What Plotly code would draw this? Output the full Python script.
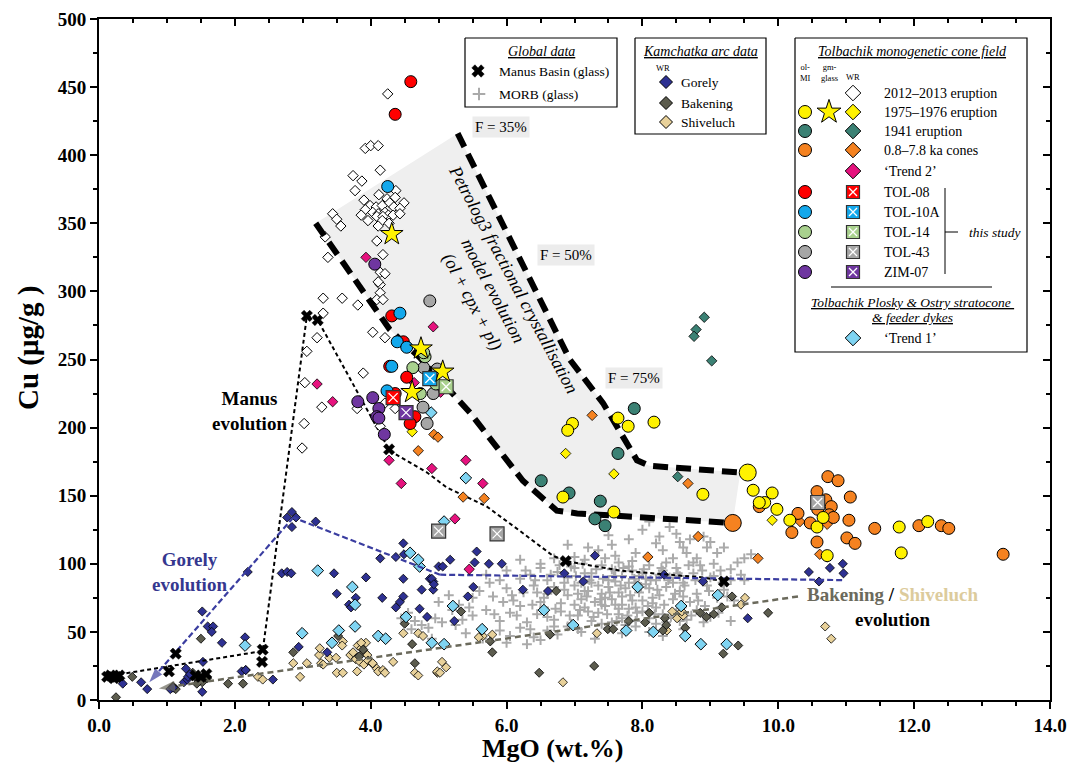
import plotly.graph_objects as go

SERIF = "Liberation Serif"

# ---------------- DATA (MgO wt.%, Cu ug/g) ----------------
tol2012_wr = [(4.25,445),(3.92,405),(4.0,407),(4.11,407),(4.14,389),(3.74,385),(3.87,381),(3.77,374),(4.37,374),
    (4.12,371),(3.9,367),(4.24,368),(4.36,369),(4.49,365),(3.99,363),(4.08,362),(4.17,363),(4.28,365),(4.34,362),
    (4.43,361),(3.92,360),(4.03,358),(4.11,357),(4.21,358),(4.26,356),(3.86,356),(4.09,355),(4.18,355),(4.33,356),
    (4.43,357),(3.96,352),(4.17,352),(3.44,357),(3.5,353),(3.56,348),(3.33,340),(4.11,348),(4.27,350),(4.09,337),
    (4.18,327),(3.37,325),(3.3,295),(3.58,295),(3.81,290),(4.14,305),(4.14,299),(4.09,294),(3.3,284),(3.21,266),
    (3.06,256),(4.03,270),(4.21,266),(3.89,240),(3.03,233),(3.28,215),(3.02,203),(2.99,185),(3.8,214),(4.36,214),
    (4.14,201),(4.14,314),(4.21,313),(4.11,307),(4.18,294),(4.21,218)]
tol1975_mi = [(6.97,203),(6.9,198),(7.64,207),(7.79,201),(8.17,204),(6.83,149),(7.58,138),(8.89,151),(9.63,154),
    (9.91,152),(9.8,145),(9.72,145),(9.98,140),(10.17,132),(10.57,127),(10.66,134),(10.72,106),(11.78,127),
    (12.2,131),(11.81,108)]
tol1975_mi_big = [(9.55,167)]
tol1975_glass = [(4.31,342),(4.74,258),(5.06,241),(4.61,226)]
tol1975_wr = [(6.87,181),(7.58,166),(9.91,132),(4.61,197)]
tol1941_mi = [(7.88,214),(7.64,181),(6.51,161),(6.92,152),(7.38,146),(7.3,133),(7.45,128)]
tol1941_wr = [(8.91,281),(8.79,272),(8.76,267),(9.02,249),(8.52,164)]
cones_mi = [(10.73,164),(10.88,161),(10.57,153),(11.06,149),(10.7,147),(10.78,142),(10.58,140),(10.75,136),
    (10.81,134),(10.29,137),(10.47,130),(11.04,132),(10.2,123),(10.57,116),(11.01,119),(11.13,115),(9.72,142),
    (11.42,126),(12.07,128),(12.4,128),(12.51,126),(13.31,107)]
cones_mi_big = [(9.33,130)]
cones_wr = [(7.26,209),(8.67,159),(9.7,104),(10.61,107),(10.72,105),(10.72,129),(10.32,131),(5.36,149),(5.67,148),
    (8.82,120),(8.08,105),(4.93,195),(4.99,193),(4.7,183)]
trend2_wr = [(3.93,325),(4.92,274),(4.64,233),(5.03,226),(4.27,176),(4.9,170),(5.4,176),(4.45,159),(5.65,159),
    (3.44,219),(3.21,232),(5.24,133),(5.45,96)]
tol08_mi = [(4.59,454),(4.36,430),(4.31,282),(4.48,263),(4.28,245),(4.53,237),(4.36,225),(4.65,208),(4.58,203)]
tol10a_mi = [(4.25,377),(4.43,284),(4.39,263),(4.53,259),(4.31,245),(4.24,227)]
tol14_mi = [(4.8,252),(4.78,255),(4.62,244),(4.96,232),(4.73,225)]
tol43_mi = [(4.87,293),(4.78,244),(4.98,243),(4.92,225),(4.77,215),(4.83,203)]
zim07_mi = [(4.06,320),(3.81,219),(4.03,222),(4.12,214),(4.09,208),(4.12,207),(4.2,195)]
tol08_wr = [(4.33,222)]
tol10a_wr = [(4.87,236)]
tol14_wr = [(5.11,230)]
tol43_wr = [(5.0,124),(5.86,122),(10.58,145)]
zim07_wr = [(4.52,211)]
trend1_wr = [(4.89,211),(5.4,163),(5.08,131),(5.21,69),(5.64,52),(4.9,42),(5.08,41),(6.55,66),(6.98,55),(7.76,51),
    (7.93,83),(8.16,50),(8.57,69),(8.63,47),(8.86,41),(9.24,41),(9.11,77),(4.72,98),(3.22,95),(3.73,83),(3.77,70),
    (2.99,49),(2.15,40),(3.53,51),(3.43,42),(3.77,54),(4.11,47),(4.22,45),(4.52,61),(4.58,108),(4.7,103)]
gorely_wr = [(2.84,138),(2.77,134),(2.9,134),(2.84,127),(3.19,131),(2.19,94),(2.69,93),(2.77,94),(2.83,93),(3.46,93),
    (3.5,78),(3.93,90),(3.68,70),(3.71,68),(3.78,75),(4.17,75),(4.14,104),(4.37,105),(4.48,115),(4.49,107),(4.48,89),
    (4.37,68),(4.43,72),(4.48,76),(4.75,81),(4.87,89),(4.92,87),(4.92,81),(4.83,61),(5.0,98),(1.52,65),(1.6,54),
    (1.68,54),(1.66,50),(1.81,42),(1.53,28),(2.15,46),(2.1,21),(2.16,22),(2.56,15),(2.94,39),(3.36,35),(0.35,12),
    (0.62,13),(0.71,8),(1.05,8),(1.09,9),(1.25,13),(1.3,15),(1.31,17),(1.34,19),(1.52,6),(1.28,23),(5.56,109),
    (5.17,103),(5.06,98),(5.53,101),(5.74,100),(5.93,100),(7.3,106),(6.85,93),(7.13,87),(8.32,92),(8.89,87),
    (6.24,81),(6.61,80),(5.51,83),(5.43,76),(4.9,89),(4.93,85),(4.72,67),(5.23,58),(10.45,94),(10.76,97),
    (10.95,100),(10.96,93),(10.6,87),(9.55,60)]
bakening_wr = [(0.25,2),(0.49,17),(1.5,45),(1.13,8),(1.09,10),(1.38,20),(1.46,15),(1.52,13),(1.59,16),(1.44,12),
    (1.9,12),(2.12,12),(2.16,22),(2.86,35),(3.52,47),(3.89,37),(3.83,32),(4.5,56),(4.61,41),(4.65,27),(5.33,65),
    (5.76,43),(5.79,35),(6.64,48),(6.73,80),(6.48,20),(7.29,25),(7.49,52),(7.57,52),(7.8,58),(8.1,64),(8.04,57),
    (8.33,60),(8.35,55),(8.3,51),(8.63,53),(8.85,64),(8.94,61),(9.05,63),(9.17,68),(9.32,76),(9.19,34),(9.41,40),
    (9.85,64)]
shiveluch_wr = [(2.34,17),(2.41,15),(2.86,27),(2.96,17),(3.06,27),(3.24,33),(3.27,27),(3.3,26),(3.39,31),(3.49,31),
    (3.59,43),(3.5,20),(3.59,20),(3.81,40),(3.86,38),(3.91,35),(3.95,33),(3.78,30),(3.84,28),(3.9,26),(3.96,29),
    (4.02,27),(3.8,21),(3.7,33),(3.74,35),(4.03,27),(4.09,23),(4.11,21),(4.18,22),(4.21,20),(4.33,28),(4.48,49),
    (4.7,49),(4.77,47),(4.65,20),(4.7,18),(4.98,20),(3.93,42),(3.86,42),(3.25,38),(3.58,40),(5.65,47),(5.79,48),
    (5.59,46),(5.05,28),(5.11,24),(4.98,21),(5.02,20),(6.83,13),(7.33,49),(8.44,65),(8.51,60),(8.6,62),(8.58,65),
    (8.36,51),(9.51,75),(9.45,70),(10.69,54),(10.78,45)]
manus_glass = [(0.12,17),(0.17,18),(0.22,16),(0.26,17),(0.3,18),(1.13,34),(1.03,21),(1.42,18),(1.5,17),(1.58,19),
    (2.41,37),(2.4,28),(3.06,282),(3.22,279),(4.27,184),(6.87,102),(9.2,87)]
morb_glass = [(4.45,60),(4.55,64),(4.65,58),(4.75,55),(4.85,53),(4.95,60),(5.05,57),(5.15,77),(5.2,66),(5.3,70),
    (5.45,68),(4.9,45),(5.25,55),(5.5,75),(5.35,59),(5.0,72),(4.6,52),
    (6.9,114),(7.2,112),(7.5,121),(7.8,118),(8.0,125),(8.1,131),(8.3,110),(8.4,127),(8.5,122),(8.6,112),(8.7,118),
    (8.9,120),(9.0,116),(9.1,108),(9.2,112),(8.2,115),(7.6,106),(7.0,105),(6.7,104),(9.4,101),(9.5,104),(9.6,107),
    (8.8,104),(7.35,110),(8.45,104),(8.65,108),(9.3,96),(6.5,100),(6.2,103),(7.9,108),(9.45,92),(9.5,88),
    (6.0,95),(6.2,89),(6.35,92),(6.5,97),(6.6,88),(6.75,94),(6.9,90),(7.0,97),(7.1,86),(7.25,93),(7.4,99),(7.5,88),
    (7.6,95),(7.7,91),(7.8,98),(7.9,86),(8.0,93),(8.1,99),(8.2,88),(8.3,95),(8.4,90),(8.5,97),(8.6,86),(8.75,93),
    (8.85,99),(9.0,90),(9.15,95),(9.3,88),(5.7,92),(5.9,88),(7.15,93),(7.55,96),(8.05,89),(8.55,91),
    (5.6,80),(5.8,76),(6.0,82),(6.1,73),(6.25,79),(6.4,84),(6.5,72),(6.6,78),(6.7,83),(6.8,71),(6.9,77),(7.0,84),
    (7.1,74),(7.2,80),(7.3,72),(7.4,78),(7.5,83),(7.6,70),(7.7,76),(7.75,82),(7.85,73),(7.95,79),(8.05,85),(8.15,71),
    (8.25,77),(8.35,83),(8.45,74),(8.55,80),(8.7,72),(8.8,78),(8.95,84),(9.1,75),(9.2,81),(9.35,73),(6.45,79),
    (7.05,78),(7.65,79),(7.35,84),(8.0,73),(8.6,76),
    (5.5,62),(5.7,66),(5.9,58),(6.05,64),(6.2,69),(6.3,57),(6.45,63),(6.55,68),(6.7,59),(6.8,65),(6.95,56),(7.05,62),
    (7.15,68),(7.25,58),(7.35,64),(7.45,69),(7.55,57),(7.65,63),(7.8,67),(7.9,58),(8.0,65),(8.1,60),(8.2,68),
    (8.35,57),(8.5,64),(8.65,59),(8.8,66),(9.0,61),(9.15,68),(9.3,58),(6.6,61),(7.2,65),(7.7,60),(8.3,63),
    (5.4,49),(5.65,45),(5.9,51),(6.05,47),(6.2,53),(6.4,46),(6.5,44),(6.6,51),(6.75,48),(6.9,54),(7.1,50),(7.3,45),
    (7.5,53),(7.7,49),(7.9,54),(8.1,50),(8.3,47),(8.6,52),(6.3,41),(6.0,42),
    (7.25,86),(7.45,75),(7.6,87),(7.8,86),(7.95,91),(8.1,82),(7.55,74),(7.7,70),(7.9,68),(7.4,70),(7.15,80),
    (7.85,95),(8.25,92),(8.45,86),(7.0,70),(6.85,86),(7.65,67),(8.15,75),
    (6.55,75),(6.65,92),(6.72,67),(6.78,99),(6.85,81),(6.93,62),(7.02,91),(7.08,66),(7.12,100),(7.18,76),(7.22,88),
    (7.28,61),(7.32,96),(7.38,74),(7.42,89),(7.48,63),(7.52,79),(7.58,91),(7.62,58),(7.68,84),(7.72,97),(7.78,62),
    (7.82,77),(7.88,89),(7.92,64),(7.98,83),(8.02,96),(8.08,69),(8.12,88),(8.18,63),(8.22,81),(8.28,97),(8.32,70),
    (8.38,88),(8.42,61),(8.48,78),(8.52,93),(8.58,68),(8.62,84),(8.68,99),(8.72,62),(8.78,88),(8.82,73),(8.88,95),
    (8.92,69),(8.98,80),(9.05,91),(9.12,64),(9.18,86),(9.25,76),(6.38,70),(6.42,88),(6.28,95),(6.15,62),(6.08,77),
    (5.95,72),(5.82,63),(5.75,86),(6.35,52),(6.7,54),(7.05,52),(7.4,56),(7.75,55),(8.2,56),(8.55,58),(8.9,57),
    (7.15,103),(7.45,104),(7.85,102),(8.35,101),(8.75,101),(9.05,100),(7.55,114),(8.25,120),(8.55,116),(8.95,112),
    (6.95,98),(7.65,101)]

# model / evolution paths
petro_upper = [(5.28,416),(6.1,333),(6.93,250),(7.42,218),(7.92,176),(8.1,172),(9.44,167)]
petro_lower = [(3.19,350),(3.59,321),(4.28,272),(4.73,251),(5.46,211),(6.24,161),(6.74,139),(7.04,137),(9.33,130)]
manus_path = [(0.2,18),(2.41,36),(3.06,282),(3.22,279),(4.28,183),(4.83,167),(5.12,156),(5.71,142),(6.2,124),
    (6.68,106),(6.87,102),(7.67,95),(8.89,90),(9.2,87)]
gorely_path = [(10.94,88),(8.89,89.5),(5.02,92),(2.86,134),(0.74,13)]
bak_path = [(10.29,76),(1.09,10),(0.88,8.5)]

# legend rows (Tolbachik box)
tol_labels = ["2012–2013 eruption", "1975–1976 eruption", "1941 eruption", "0.8–7.8 ka cones", "‘Trend 2’",
              "TOL-08", "TOL-10A", "TOL-14", "TOL-43", "ZIM-07"]

# ---------------- COLOURS ----------------
C_YEL = "#fff200"; C_TEAL = "#3b8174"; C_ORA = "#f58220"; C_MAG = "#e6127e"
C_RED = "#ff0000"; C_BLU = "#13a8ec"; C_GRN = "#a9d18e"; C_GRY = "#a6a6a6"; C_PUR = "#6f36a0"
C_TR1 = "#7fd4f2"; C_GOR = "#2e3192"; C_BAK = "#5c5c4e"; C_SHI = "#e8d19a"; C_MORB = "#aaaaaa"

def split(pairs):
    return [p[0] for p in pairs], [p[1] for p in pairs]

fig = go.Figure()

def pts(pairs, symbol, color, size, lc="black", lw=1, axes=("x", "y")):
    x, y = split(pairs)
    fig.add_trace(go.Scatter(x=x, y=y, mode="markers", showlegend=False, hoverinfo="skip",
                             xaxis=axes[0], yaxis=axes[1],
                             marker=dict(symbol=symbol, color=color, size=size, line=dict(color=lc, width=lw))))

def line(pairs, color, width, dash, **kw):
    x, y = split(pairs)
    fig.add_trace(go.Scatter(x=x, y=y, mode="lines", showlegend=False, hoverinfo="skip",
                             line=dict(color=color, width=width, dash=dash), **kw))

def squares(pairs, color, size=14, axes=("x", "y")):
    pts(pairs, "square", color, size, "#333333", 1.2, axes)
    pts(pairs, "x-thin", color, size - 5, "white", 1.3, axes)

# model field
poly = petro_upper + petro_lower[::-1] + [petro_upper[0]]
px_, py_ = split(poly)
fig.add_trace(go.Scatter(x=px_, y=py_, mode="lines", fill="toself", fillcolor="#efefef",
                         line=dict(width=0), showlegend=False, hoverinfo="skip"))

pts(morb_glass, "cross-thin", C_MORB, 7, C_MORB, 2)
pts(shiveluch_wr, "diamond", C_SHI, 7, "black", 0.8)
pts(bakening_wr, "diamond", C_BAK, 7, "black", 0.8)
pts(gorely_wr, "diamond", C_GOR, 7, "black", 0.8)
pts(trend1_wr, "diamond", C_TR1, 9, "black", 1)

# evolution trends
line(manus_path, "black", 2, "4px,3px")
gx, gy = split(gorely_path)
fig.add_trace(go.Scatter(x=gx, y=gy, mode="lines+markers", showlegend=False, hoverinfo="skip",
                         line=dict(color="#3a3da0", width=2.2, dash="6px,3px"),
                         marker=dict(symbol=["circle"] * (len(gx) - 1) + ["arrow"],
                                     size=[0] * (len(gx) - 1) + [15], color="#3a3da0",
                                     angleref="previous", line=dict(width=0))))
bx, by = split(bak_path)
fig.add_trace(go.Scatter(x=bx, y=by, mode="lines+markers", showlegend=False, hoverinfo="skip",
                         line=dict(color="#6b6a5c", width=2.5, dash="6px,4px"),
                         marker=dict(symbol=["circle"] * (len(bx) - 1) + ["arrow"],
                                     size=[0] * (len(bx) - 1) + [17], color="#6b6a5c",
                                     angleref="previous", line=dict(width=0))))

pts(manus_glass, "x", "black", 10, "black", 0.5)
pts(tol2012_wr, "diamond", "white", 8, "black", 1)
pts(trend2_wr, "diamond", C_MAG, 8, "black", 0.8)
pts(cones_wr, "diamond", C_ORA, 8, "black", 0.8)
pts(tol1941_wr, "diamond", C_TEAL, 8, "black", 0.8)
pts(tol1975_wr, "diamond", C_YEL, 8, "black", 0.8)

line(petro_upper, "black", 6, "15px,8px")
line(petro_lower, "black", 6, "15px,8px")

pts(tol1941_mi, "circle", C_TEAL, 12)
pts(cones_mi, "circle", C_ORA, 12)
pts(tol1975_mi, "circle", C_YEL, 12)
pts(tol1975_mi_big, "circle", C_YEL, 17)
pts(cones_mi_big, "circle", C_ORA, 17)
pts(tol43_mi, "circle", C_GRY, 12)
pts(tol14_mi, "circle", C_GRN, 12)
pts(zim07_mi, "circle", C_PUR, 12)
pts(tol08_mi, "circle", C_RED, 12)
pts(tol10a_mi, "circle", C_BLU, 12)
squares(tol43_wr, C_GRY)
squares(tol08_wr, C_RED)
squares(tol10a_wr, C_BLU)
squares(tol14_wr, C_GRN)
squares(zim07_wr, C_PUR)
pts(tol1975_glass, "star", C_YEL, 17)

# dummy trace for mirrored top/right axes
fig.add_trace(go.Scatter(x=[None], y=[None], xaxis="x2", yaxis="y2", showlegend=False))

# ---------------- LEGEND (pixel-space overlay axes x3/y3) ----------------
P = ("x3", "y3")
def box(l, t, r, b):
    fig.add_trace(go.Scatter(x=[l, r, r, l, l], y=[t, t, b, b, t], mode="lines", fill="toself",
                             fillcolor="white", line=dict(color="black", width=1.2),
                             xaxis="x3", yaxis="y3", showlegend=False, hoverinfo="skip"))
box(465, 38, 617, 107)
box(635, 38, 766, 134)
box(795, 38, 1027, 352)

pts([(478, 71)], "x", "black", 11, "black", 0.5, P)
pts([(479, 94)], "cross-thin", C_MORB, 9, C_MORB, 2, P)
pts([(666, 82)], "diamond", C_GOR, 10, "black", 1, P)
pts([(666, 103)], "diamond", C_BAK, 10, "black", 1, P)
pts([(666, 122)], "diamond", C_SHI, 10, "black", 1, P)

rows = [93, 112, 131, 150, 171, 192, 212, 232, 252, 272]
circ_cols = {1: C_YEL, 2: C_TEAL, 3: C_ORA, 5: C_RED, 6: C_BLU, 7: C_GRN, 8: C_GRY, 9: C_PUR}
for i, c in circ_cols.items():
    pts([(805, rows[i])], "circle", c, 13, "black", 1, P)
pts([(829, 112)], "star", C_YEL, 18, "black", 1, P)
dia_cols = {0: "white", 1: C_YEL, 2: C_TEAL, 3: C_ORA, 4: C_MAG}
for i, c in dia_cols.items():
    pts([(853, rows[i])], "diamond", c, 12, "black", 1, P)
for i, c in zip(range(5, 10), [C_RED, C_BLU, C_GRN, C_GRY, C_PUR]):
    squares([(853, rows[i])], c, 13, P)
pts([(853, 338)], "diamond", C_TR1, 12, "black", 1, P)

def ann(text, x, y, size=14, xanchor="left", color="black", italic=False, under=False, bold=False,
        align="left", bg=None, angle=0):
    f = dict(family=SERIF, size=size, color=color)
    if italic:
        f["style"] = "italic"
    if under:
        f["lineposition"] = "under"
    if bold:
        f["weight"] = "bold"
    kw = {}
    if bg:
        kw["bgcolor"] = bg
    fig.add_annotation(text=text, x=x, y=y, xref="x3", yref="y3", showarrow=False, xanchor=xanchor,
                       yanchor="middle", font=f, align=align, textangle=angle, borderpad=2, **kw)

ann("Global data", 541, 51, 14, "center", italic=True, under=True)
ann("Manus Basin (glass)", 496, 71, 13.5)
ann("MORB (glass)", 496, 94, 13.5)
ann("Kamchatka arc data", 700, 51, 14, "center", italic=True, under=True)
ann("WR", 663, 68, 8.5, "center")
ann("Gorely", 678, 82, 13.5)
ann("Bakening", 678, 103, 13.5)
ann("Shiveluch", 678, 122, 13.5)
ann("Tolbachik monogenetic cone field", 912, 51, 14, "center", italic=True, under=True)
ann("ol-<br>MI", 805, 72, 8.5, "center", align="center")
ann("gm-<br>glass", 829, 72, 8.5, "center", align="center")
ann("WR", 853, 77, 8.5, "center")
for i, lab in enumerate(tol_labels):
    ann(lab, 881, rows[i], 14)
ann("this study", 994, 232, 13.5, "center", italic=True)
ann("Tolbachik Plosky &amp; Ostry stratocone ", 912, 302, 13.5, "center", italic=True, under=True)
ann("&amp; feeder dykes", 912, 317, 13.5, "center", italic=True, under=True)
ann("‘Trend 1’", 881, 338, 14)

fig.add_shape(type="line", xref="x3", yref="y3", x0=945, x1=945, y0=188, y1=274, line=dict(color="black", width=1))
fig.add_shape(type="line", xref="x3", yref="y3", x0=945, x1=958, y0=232, y1=232, line=dict(color="black", width=1))
fig.add_shape(type="line", xref="x3", yref="y3", x0=831, x1=992, y0=287, y1=287, line=dict(color="#555555", width=1.5))

# chart labels
ann("F = 35%", 501, 127, 15, "center", bg="#ececec")
ann("F = 50%", 566, 255, 15, "center", bg="#ececec")
ann("F = 75%", 634, 378, 15, "center", bg="#ececec")
ann("Petrolog3 fractional crystallisation<br>model evolution<br>(ol + cpx + pl)", 492, 290, 18, "center",
    italic=True, align="center", angle=62)
ann("Manus<br>evolution", 249, 411, 19, "center", bold=True, align="center")
ann("Gorely<br>evolution", 189, 572, 19, "center", color="#35378f", bold=True, align="center")
ann('<span style="color:#6b6a5c">Bakening</span> / <span style="color:#dccb9c">Shiveluch</span><br>evolution',
    893, 607, 19, "center", bold=True, align="center")

# axis titles (positions relative to plot area)
fig.add_annotation(text="MgO (wt.%)", x=(553 - 99) / 951, y=(700 - 748) / 681, xref="paper", yref="paper",
                   showarrow=False, font=dict(family=SERIF, size=26, color="black", weight="bold"),
                   xanchor="center", yanchor="middle")
fig.add_annotation(text="Cu (μg/g )", x=(28 - 99) / 951, y=(700 - 348) / 681, xref="paper", yref="paper",
                   showarrow=False, textangle=-90, font=dict(family=SERIF, size=29, color="black", weight="bold"),
                   xanchor="center", yanchor="middle")

tickfont = dict(family=SERIF, size=19, color="black", weight="bold")
common = dict(showgrid=False, zeroline=False, showline=True, linecolor="black", linewidth=2,
              tickcolor="black", tickwidth=2, ticklen=7, automargin=False)
fig.update_layout(
    width=1070, height=764, margin=dict(l=99, r=20, t=19, b=64),
    paper_bgcolor="white", plot_bgcolor="white", hovermode=False, showlegend=False,
    xaxis=dict(range=[0, 14], dtick=2, tick0=0, tickformat=".1f", ticks="outside", tickfont=tickfont,
               minor=dict(dtick=0.5, ticks="outside", ticklen=4, tickwidth=1.5, tickcolor="black"), **common),
    yaxis=dict(range=[0, 500], dtick=50, tick0=0, ticks="outside", tickfont=tickfont,
               minor=dict(dtick=25, ticks="outside", ticklen=4, tickwidth=1.5, tickcolor="black"), **common),
    xaxis2=dict(range=[0, 14], overlaying="x", side="top", anchor="y2", dtick=2, ticks="inside",
                showticklabels=False,
                minor=dict(dtick=0.5, ticks="inside", ticklen=4, tickwidth=1.5, tickcolor="black"), **common),
    yaxis2=dict(range=[0, 500], overlaying="y", side="right", anchor="x2", dtick=50, ticks="inside",
                showticklabels=False,
                minor=dict(dtick=25, ticks="inside", ticklen=4, tickwidth=1.5, tickcolor="black"), **common),
    xaxis3=dict(range=[99, 1050], overlaying="x", anchor="y3", visible=False, fixedrange=True),
    yaxis3=dict(range=[700, 19], overlaying="y", anchor="x3", visible=False, fixedrange=True),
)

# remove the browser's default page margin so the 1070x764 figure fills the window exactly
fig.write_html("out.html", config={"displayModeBar": False},
               post_script="document.body.style.margin='0';document.body.style.overflow='hidden';")
